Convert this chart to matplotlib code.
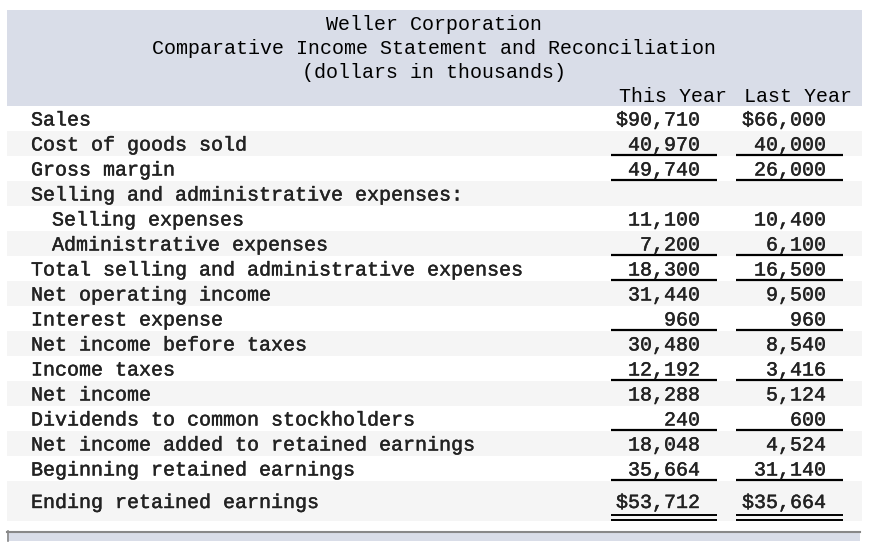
import matplotlib.pyplot as plt
import matplotlib.patheffects as pe
from matplotlib.patches import Rectangle

# table content
title_lines = ['Weller Corporation',
               'Comparative Income Statement and Reconciliation',
               '(dollars in thousands)']
col_heads = ['This Year', 'Last Year']

labels = ['Sales', 'Cost of goods sold', 'Gross margin',
          'Selling and administrative expenses:',
          'Selling expenses', 'Administrative expenses',
          'Total selling and administrative expenses',
          'Net operating income', 'Interest expense',
          'Net income before taxes', 'Income taxes', 'Net income',
          'Dividends to common stockholders',
          'Net income added to retained earnings',
          'Beginning retained earnings', 'Ending retained earnings']
this_year = [90710, 40970, 49740, None, 11100, 7200, 18300, 31440, 960,
             30480, 12192, 18288, 240, 18048, 35664, 53712]
last_year = [66000, 40000, 26000, None, 10400, 6100, 16500, 9500, 960,
             8540, 3416, 5124, 600, 4524, 31140, 35664]
indented = [4, 5]
dollar_rows = [0, 15]
single_rule = [1, 2, 5, 6, 8, 10, 12, 14]
double_rule = [15]

HEAD_BG = '#d9dde8'
ALT_BG = '#f5f5f5'
FONT = 'Liberation Mono'
FS = 14.4
# body text in the reference is a slightly heavier mono face
heavy = [pe.withStroke(linewidth=0.3, foreground='#222222')]

fig = plt.figure(figsize=(8.76, 5.60), dpi=100)
ax = fig.add_axes([0, 0, 1, 1])
ax.set_xlim(0, 876)
ax.set_ylim(560, 0)
ax.axis('off')

left, right = 7, 862
# header block
ax.add_patch(Rectangle((left, 10), right - left, 96, color=HEAD_BG, lw=0))
for i, t in enumerate(title_lines):
    ax.text(434, 24.5 + 24 * i, t, ha='center', va='center', fontsize=FS, family=FONT)
ax.text(727, 97, col_heads[0], ha='right', va='center', fontsize=FS, family=FONT)
ax.text(852, 97, col_heads[1], ha='right', va='center', fontsize=FS, family=FONT)

def fmt(v, dollar):
    if v is None:
        return ''
    s = '{:,}'.format(v)
    return '$' + s if dollar else s

top = 106
for i, lab in enumerate(labels):
    h = 40 if i == len(labels) - 1 else 25
    if i % 2 == 1:
        ax.add_patch(Rectangle((left, top), right - left, h, color=ALT_BG, lw=0))
    yc = top + h / 2 + 1.5
    x = 52 if i in indented else 31
    ax.text(x, yc, lab, ha='left', va='center', fontsize=FS, family=FONT,
            color='#222222', path_effects=heavy)
    ax.text(700, yc, fmt(this_year[i], i in dollar_rows), ha='right', va='center',
            fontsize=FS, family=FONT, color='#222222', path_effects=heavy)
    ax.text(826, yc, fmt(last_year[i], i in dollar_rows), ha='right', va='center',
            fontsize=FS, family=FONT, color='#222222', path_effects=heavy)
    for x0, x1 in [(611, 717), (736, 843)]:
        if i in single_rule:
            ax.plot([x0, x1], [top + h - 1.5, top + h - 1.5], color='black', lw=1.6,
                    solid_capstyle='butt')
        if i in double_rule:
            ax.plot([x0, x1], [top + h - 6, top + h - 6], color='black', lw=1.4,
                    solid_capstyle='butt')
            ax.plot([x0, x1], [top + h - 1.5, top + h - 1.5], color='black', lw=1.4,
                    solid_capstyle='butt')
    top += h

# bottom bar
ax.add_patch(Rectangle((left, 531), right - left - 2, 10, color=HEAD_BG, lw=0))
ax.plot([left, right - 2], [531.5, 531.5], color='#888888', lw=1.5)
ax.plot([left + 0.5, left + 0.5], [531, 541], color='#888888', lw=1.2)

fig.savefig('out.png', dpi=100)
